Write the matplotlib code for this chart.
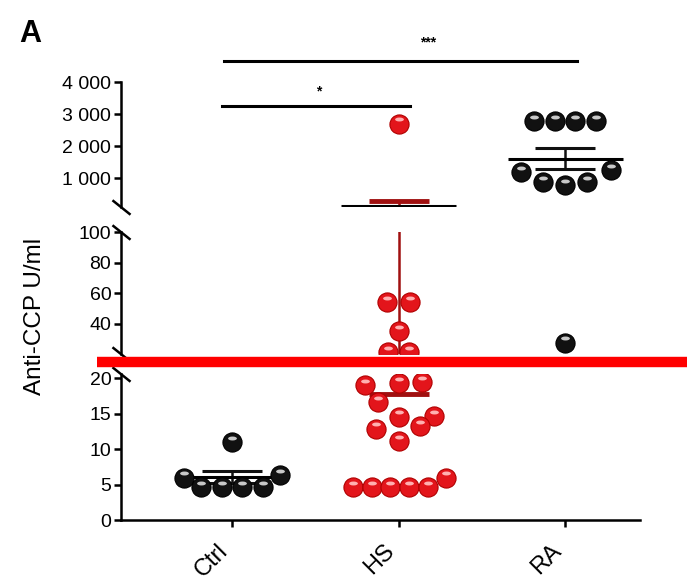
import numpy as np
import matplotlib
matplotlib.use("Agg")
import matplotlib.pyplot as plt
from matplotlib.lines import Line2D
from matplotlib.markers import MarkerStyle
from matplotlib.transforms import Affine2D, offset_copy, ScaledTranslation

plt.rcParams['font.family'] = ['Liberation Sans', 'DejaVu Sans']

# data
groups = ['Ctrl', 'HS', 'RA']
ctrl_vals = [11.0, 6.0, 6.4, 4.7, 4.7, 4.7, 4.7]
hs_vals = [2700, 54, 54, 35, 21, 21, 19.0, 19.3, 19.5, 16.7, 14.6, 14.7,
           13.3, 12.9, 11.1, 4.6, 4.6, 4.6, 4.6, 4.6, 6.0]
ra_vals = [2780, 2780, 2780, 2780, 1190, 1250, 875, 780, 875, 27.5]

# horizontal scatter layout (in marker widths)
ctrl_dx = [0, -2.3, 2.3, -1.5, -0.5, 0.5, 1.5]
hs_dx = [0, -0.55, 0.55, 0, -0.5, 0.5, -1.6, 0, 1.15, -1.0, 0, 1.7,
         1.05, -1.1, 0, -2.2, -1.3, -0.4, 0.5, 1.4, 2.3]
ra_dx = [-1.5, -0.5, 0.5, 1.5, -2.1, 2.2, -1.05, 0, 1.05, 0]

top_ticks = [1000, 2000, 3000, 4000]
mid_ticks = [40, 60, 80, 100]
bot_ticks = [0, 5, 10, 15, 20]

RED = '#e3151b'
BLACK = '#111111'
step = 0.125

fig = plt.figure(figsize=(6.87, 5.87), dpi=100)
left, width = 0.1761, 0.7555
ax_top = fig.add_axes([left, 0.6474, width, 0.2129])
ax_mid = fig.add_axes([left, 0.3969, width, 0.2078])
ax_bot = fig.add_axes([left, 0.1141, width, 0.2487])
axes = [ax_top, ax_mid, ax_bot]
ranges = [(100, 4000), (20, 100), (0, 20.6)]

series = [(ctrl_vals, ctrl_dx, BLACK, '#c8c8c8', BLACK),
          (hs_vals, hs_dx, RED, '#ffb0b0', '#a01010'),
          (ra_vals, ra_dx, BLACK, '#c8c8c8', BLACK)]

shine = MarkerStyle('o', transform=Affine2D().scale(1.0, 0.45))

for ax, (lo, hi_lim) in zip(axes, ranges):
    ax.set_ylim(lo, hi_lim)
    ax.set_xlim(-0.667, 2.45)
    for i, (vals, dx, col, hi, ecol) in enumerate(series):
        v = np.array(vals, dtype=float)
        x = i + np.array(dx) * step
        m = v.mean()
        sem = v.std(ddof=1) / np.sqrt(len(v))
        keep = (v >= lo) & (v <= hi_lim)
        ax.scatter(x[keep], v[keep], s=190, color=col,
                   edgecolor='#000000' if col == BLACK else '#b00000',
                   linewidth=0.8, zorder=3)
        ax.scatter(x[keep], v[keep], s=40, marker=shine, color=hi, linewidth=0, zorder=4,
                   transform=offset_copy(ax.transData, fig=fig, x=0, y=3, units='points'))
        ax.vlines(i, m - sem, m + sem, color=ecol, lw=1.8, zorder=2)
        ax.hlines(m, i - 0.345, i + 0.345, color='black', lw=2.2, zorder=2)
        ax.hlines([m - sem, m + sem], i - 0.18, i + 0.18, color=ecol,
                  lw=3.5 if ecol != BLACK else 2.2, zorder=2)
    for s in ['top', 'right']:
        ax.spines[s].set_visible(False)
    ax.spines['left'].set_linewidth(1.8)
    ax.tick_params(axis='y', direction='out', length=5, width=1.8, labelsize=14, pad=2)

for ax in [ax_top, ax_mid]:
    ax.spines['bottom'].set_visible(False)
    ax.set_xticks([])

ax_top.set_yticks(top_ticks)
ax_top.set_yticklabels([f'{t:,}'.replace(',', ' ') for t in top_ticks])
ax_mid.set_yticks(mid_ticks)
ax_bot.set_yticks(bot_ticks)

ax_bot.spines['bottom'].set_linewidth(1.8)
ax_bot.set_xticks(range(len(groups)))
ax_bot.set_xticklabels(groups, rotation=45, ha='right', rotation_mode='anchor', fontsize=17)
ax_bot.tick_params(axis='x', direction='out', length=5, width=1.8, pad=9)
for lab in ax_bot.get_xticklabels():
    lab.set_transform(lab.get_transform() + ScaledTranslation(-11 / 72, 0, fig.dpi_scale_trans))

# axis break marks
brk = dict(marker=[(-1, 0.8), (1, -0.8)], markersize=13, color='black',
           mew=1.8, linestyle='none', clip_on=False)
ax_top.plot([0], [0], transform=ax_top.transAxes, **brk)
ax_mid.plot([0, 0], [0, 1], transform=ax_mid.transAxes, **brk)
ax_bot.plot([0], [1], transform=ax_bot.transAxes, **brk)

# significance bars
ax_top.plot([-0.05, 2.07], [4650, 4650], color='black', lw=2.2, clip_on=False)
ax_top.plot([-0.06, 1.07], [3250, 3250], color='black', lw=2.2, clip_on=False)
ax_top.text(1.18, 5220, '***', ha='center', va='center', fontsize=10, weight='bold')
ax_top.text(0.52, 3720, '*', ha='center', va='center', fontsize=10, weight='bold')

fig.text(0.051, 0.4617, 'Anti-CCP U/ml', rotation=90, ha='center', va='center', fontsize=17.5)
fig.text(0.028, 0.942, 'A', fontsize=22, weight='bold', ha='left', va='center')

# red overlay line
fig.add_artist(Line2D([0.141, 1.0], [0.3833, 0.3833], transform=fig.transFigure,
                      color='#ff0000', lw=7.5, solid_capstyle='butt', zorder=10))

fig.savefig('out.png', dpi=100)
